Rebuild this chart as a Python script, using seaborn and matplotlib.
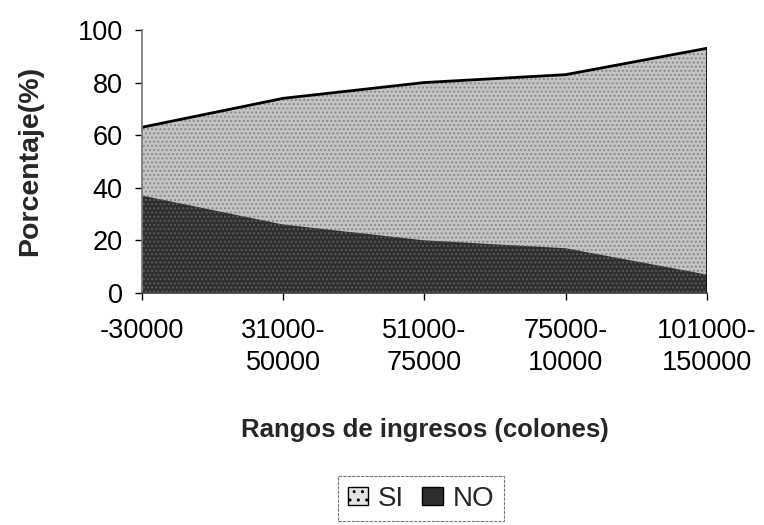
import matplotlib
matplotlib.use("Agg")
import matplotlib.pyplot as plt
import seaborn as sns
import numpy as np
import pandas as pd
from matplotlib.patches import Patch

categories = ["-30000", "31000-\n50000", "51000-\n75000", "75000-\n10000", "101000-\n150000"]
si_values = [63, 74, 80, 83, 93]
no_values = [37, 26, 20, 17, 7]

sns.set_theme(style="white")
plt.rcParams['font.family'] = ['Liberation Sans', 'DejaVu Sans']

fig = plt.figure(figsize=(7.64, 5.25), dpi=100)
ax = fig.add_axes([0.186, 0.442, 0.739, 0.501])

x = np.arange(len(categories))
df = pd.DataFrame({"x": x, "SI": si_values, "NO": no_values})

si_color = "#c4c4c4"
no_color = "#2e2e2e"
ax.fill_between(df["x"], 0, df["SI"], color=si_color, linewidth=0, hatch="....", edgecolor="#8a8a8a")
ax.fill_between(df["x"], 0, df["NO"], color=no_color, linewidth=0, hatch="....", edgecolor="#5a5a5a")
sns.lineplot(data=df, x="x", y="SI", ax=ax, color="black", linewidth=2)
ax.plot([x[-1], x[-1]], [0, si_values[-1]], color="black", linewidth=1.2)

ax.set_xlim(0, len(categories) - 1)
ax.set_ylim(0, 100)
ax.set_yticks([0, 20, 40, 60, 80, 100])
ax.set_xticks(x)
ax.set_xticklabels(categories, linespacing=1.3)
ax.tick_params(axis="both", labelsize=19.5, direction="out", length=5, width=1, colors="black")
ax.tick_params(axis="y", pad=9)
ax.tick_params(axis="x", pad=13)
ax.tick_params(left=True, bottom=True)
for s in ["top", "right"]:
    ax.spines[s].set_visible(False)
ax.spines["left"].set_color("#777777")
ax.spines["left"].set_linestyle((0, (2, 1)))
ax.spines["bottom"].set_color("#444444")
ax.set_xlabel("Rangos de ingresos (colones)", fontsize=18.5, fontweight="bold", labelpad=30)
ax.set_ylabel("Porcentaje(%)", fontsize=20.5, fontweight="bold", labelpad=25)
ax.grid(False)

handles = [Patch(facecolor="#e4e4e4", edgecolor="black", hatch="..", label="SI"),
           Patch(facecolor=no_color, edgecolor="black", label="NO")]
leg = fig.legend(handles=handles, loc="center", bbox_to_anchor=(0.551, 0.05), ncol=2,
                 fontsize=20, frameon=True, fancybox=False, handlelength=0.75, handleheight=0.65,
                 handletextpad=0.35, columnspacing=0.65, borderpad=0.35, borderaxespad=0,
                 edgecolor="#555555")
leg.get_frame().set_linewidth(0.8)
leg.get_frame().set_linestyle((0, (3, 1)))

fig.savefig("out.png", dpi=100)
